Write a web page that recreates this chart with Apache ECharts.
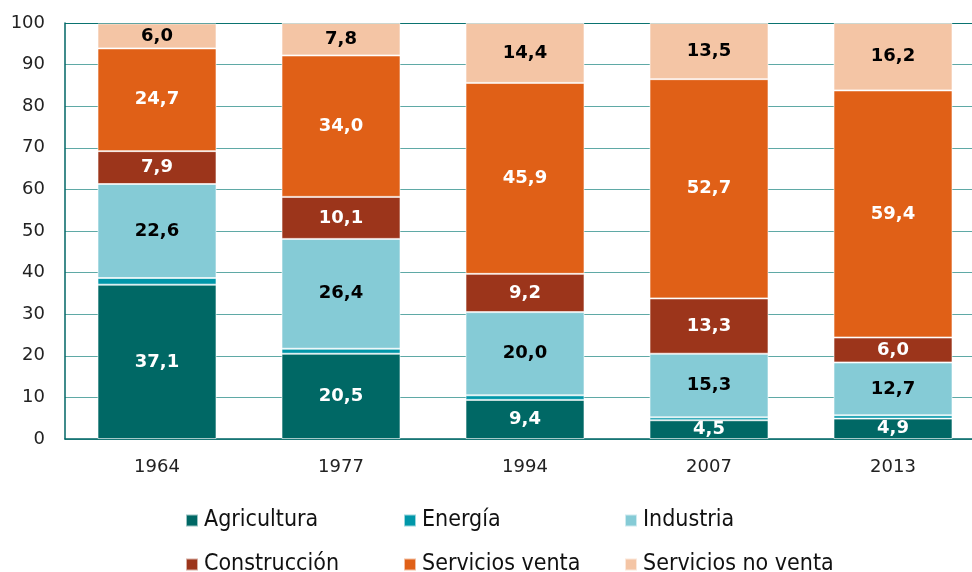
<!DOCTYPE html>
<html>
<head>
<meta charset="utf-8">
<script src="https://cdn.jsdelivr.net/npm/echarts@6/dist/echarts.min.js"></script>
<style>
  html, body { margin: 0; padding: 0; background: #fff; }
  #chart { width: 972px; height: 572px; }
</style>
</head>
<body>
<div id="chart"></div>
<script>
const years = ['1964', '1977', '1994', '2007', '2013']
const agricultura = [37.1, 20.5, 9.4, 4.5, 4.9]
const energia = [1.6, 1.2, 1.1, 0.7, 0.8]
const industria = [22.6, 26.4, 20.0, 15.3, 12.7]
const construccion = [7.9, 10.1, 9.2, 13.3, 6.0]
const serviciosVenta = [24.7, 34.0, 45.9, 52.7, 59.4]
const serviciosNoVenta = [6.0, 7.8, 14.4, 13.5, 16.2]

const chart = echarts.init(document.getElementById('chart'))

const makeSeries = (name, data, color, labelColor) => ({
  name,
  type: 'bar',
  stack: 'total',
  barWidth: 119,
  data,
  itemStyle: { color, borderColor: 'rgba(255,255,255,0.6)', borderWidth: 1 },
  label: {
    show: labelColor !== null,
    position: 'inside',
    color: labelColor || '#000',
    fontFamily: '"DejaVu Sans"',
    fontWeight: 'bold',
    fontSize: 18,
    formatter: (p) => p.value.toFixed(1).replace('.', ',')
  }
})

// legend laid out as a 3x2 table
const legendPos = [
  ['Agricultura', 185, 509],
  ['Energía', 403, 509],
  ['Industria', 624, 509],
  ['Construcción', 185, 553],
  ['Servicios venta', 403, 553],
  ['Servicios no venta', 624, 553]
]

// gridlines are light teal, the one at 100 darker
const gridColors = Array(10).fill('#5fa9a6').concat(['#0a7370'])

const option = {
  animation: false,
  legend: legendPos.map(([name, x, y]) => ({
    data: [name],
    left: x,
    top: y,
    padding: 0,
    itemWidth: 12,
    itemHeight: 12,
    itemGap: 4,
    icon: 'rect',
    textStyle: {
      fontFamily: '"DejaVu Sans Condensed", "DejaVu Sans"',
      fontSize: 23,
      color: '#111',
      padding: [0, 0, 0, 1]
    }
  })),
  grid: {
    left: 65,
    top: 23,
    width: 920,
    height: 416,
    containLabel: false,
    outerBoundsMode: 'none'
  },
  xAxis: {
    type: 'category',
    data: years,
    axisLine: { lineStyle: { color: '#006666', width: 1.5 } },
    axisTick: { show: false },
    axisLabel: {
      color: '#222',
      fontFamily: '"DejaVu Sans"',
      fontSize: 18,
      margin: 19
    }
  },
  yAxis: {
    type: 'value',
    min: 0,
    max: 100,
    interval: 10,
    axisLine: { show: true, lineStyle: { color: '#006666', width: 1.5 } },
    axisTick: { show: false },
    splitLine: { lineStyle: { color: gridColors, width: 1.2 } },
    axisLabel: {
      color: '#222',
      fontFamily: '"DejaVu Sans"',
      fontSize: 18,
      margin: 20
    }
  },
  series: [
    makeSeries('Agricultura', agricultura, '#006865', '#fff'),
    makeSeries('Energía', energia, '#0097a9', null),
    makeSeries('Industria', industria, '#85cbd6', '#000'),
    makeSeries('Construcción', construccion, '#9c351b', '#fff'),
    makeSeries('Servicios venta', serviciosVenta, '#e06017', '#fff'),
    makeSeries('Servicios no venta', serviciosNoVenta, '#f4c5a5', '#000')
  ]
}

chart.setOption(option)
</script>
</body>
</html>
